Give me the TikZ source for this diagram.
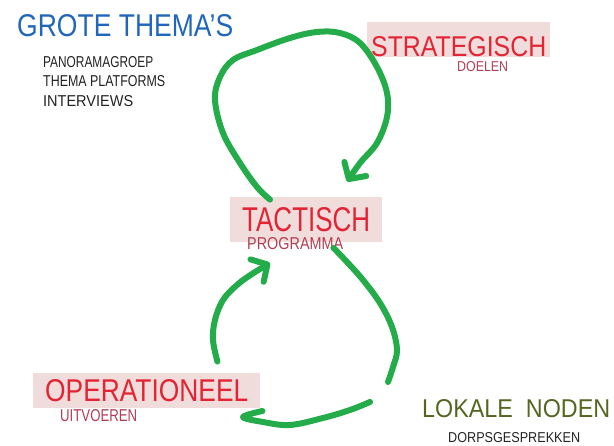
\documentclass[tikz,border=0pt]{standalone}
\usepackage{fontspec}
\setmainfont{Liberation Sans}
\usepackage{graphicx}
\usepackage{tikz}
\usetikzlibrary{positioning}
\usetikzlibrary{calc,arrows.meta}

\definecolor{flowgreen}{RGB}{36,172,74}
\definecolor{boxpink}{RGB}{241,220,220}
\definecolor{titlered}{RGB}{226,36,52}
\definecolor{subred}{RGB}{176,62,84}
\definecolor{themablue}{RGB}{32,102,186}
\definecolor{lokaalgreen}{RGB}{86,102,34}
\definecolor{inkblack}{RGB}{34,34,34}

% hand lettering: fixed width and cap height
\newcommand{\handtext}[3]{\resizebox{#1pt}{#2pt}{#3}}

\tikzset{
  titlebox/.style={fill=boxpink, text=titlered, inner ysep=0pt, inner xsep=12pt, anchor=south west},
  subtext/.style={inner sep=0pt, anchor=base west},
  flow/.style={draw=flowgreen, line width=6pt, line cap=round, line join=round},
  flowtip/.style={-{Straight Barb[length=12pt,width=26pt,round]}},
}

\begin{document}
\begin{tikzpicture}[x=1pt, y=1pt]
    \useasboundingbox (0,0) rectangle (614,446);

    \node(grote)[subtext, text=themablue] at (17,409) {\handtext{216}{22}{GROTE THEMA'S}};
    \node(themas)[inner sep=0pt, anchor=north west, align=left, text=inkblack,
        font=\fontsize{10}{19.5}\selectfont] at (43,390)
        {\handtext{110}{11}{PANORAMAGROEP}\\ \handtext{122}{11}{THEMA PLATFORMS}\\ \handtext{90}{11}{INTERVIEWS}};

    \node(strat)[titlebox, inner xsep=4pt, text height=35pt, text depth=0pt] at (367,389) {\handtext{175}{20}{STRATEGISCH}};
    \node(doelen)[subtext, text=subred] at (457,374) {\handtext{51}{10}{DOELEN}};

    \node(tact)[titlebox, text height=35pt, text depth=10pt] at (230,204) {\handtext{128}{24}{TACTISCH}};
    \node(prog)[subtext, text=subred] at (247,196) {\handtext{96}{12}{PROGRAMMA}};

    \node(oper)[titlebox, text height=29pt, text depth=6pt] at (33,38) {\handtext{203}{22}{OPERATIONEEL}};
    \node(uitv)[subtext, text=subred] at (60,24) {\handtext{77}{12}{UITVOEREN}};

    \node(lokaal)[subtext, text=lokaalgreen] at (422,28) {\handtext{188}{18}{LOKALE\ \ NODEN}};
    \node(dorp)[subtext, text=inkblack] at (448,3) {\handtext{132}{10}{DORPSGESPREKKEN}};

    % loop ends
    \coordinate(topstart) at ($(tact.north west)+(40,-3)$);
    \coordinate(topend) at ($(tact.north)+(41,15)$);
    \coordinate(upstart) at ($(oper.north east)+(-43,11)$);
    \coordinate(upend) at ($(tact.south west)+(40,-21)$);
    \coordinate(downstart) at ($(prog.north east)+(-10,-10)$);
    \coordinate(downend) at ($(oper.south east)+(2,-3)$);

    \draw[flow, flowtip] plot[smooth, tension=0.6] coordinates {(topstart) (257,259) (240,283) (223,313) (215,346) (220,369) (233,386) (257,396) (290,408) (317,414) (340,413) (360,403) (377,379) (387,353) (387,329) (377,303) (360,283) (topend)};
    \draw[flow, flowtip] plot[smooth, tension=0.6] coordinates {(upstart) (213,106) (215,126) (223,146) (237,161) (252,172) (upend)};
    \draw[flow] plot[smooth, tension=0.6] coordinates {(downstart) (347,184) (363,166) (380,143) (392,119) (397,96) (393,79) (388,64)};
    \draw[flow] plot[smooth, tension=0.6] coordinates {(370,44) (350,36) (323,28) (290,21) (263,24) (243,29) (downend)};
\end{tikzpicture}
\end{document}
